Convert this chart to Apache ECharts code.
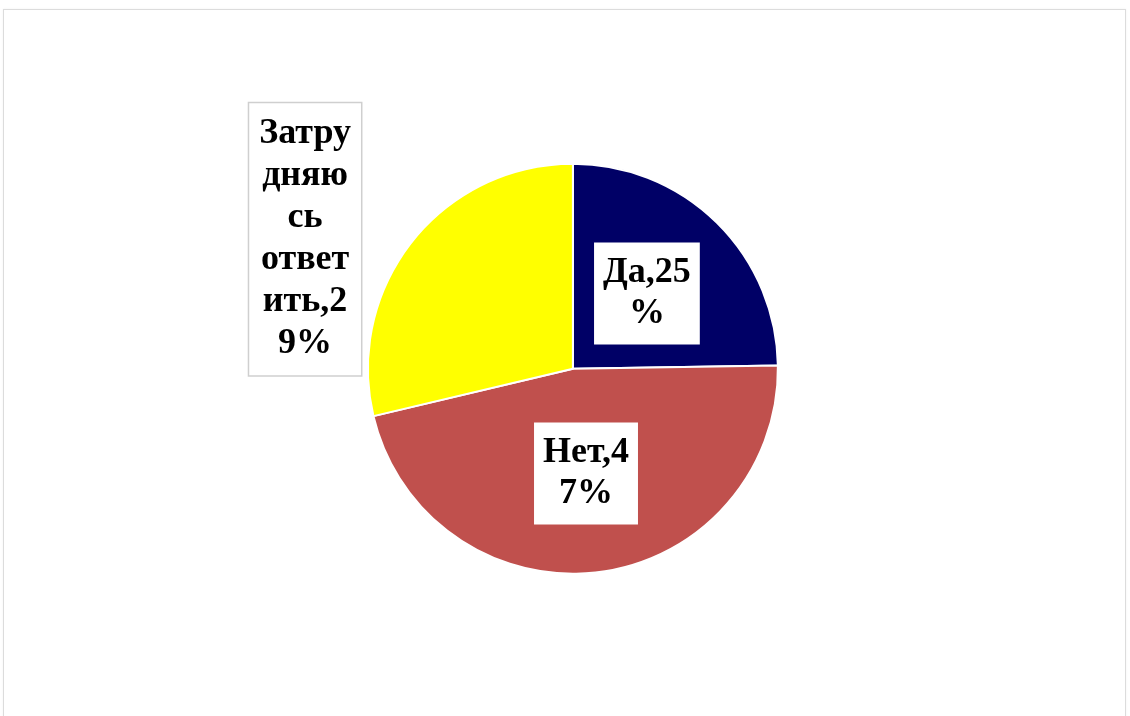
<!DOCTYPE html>
<html>
<head>
<meta charset="utf-8">
<script src="https://cdn.jsdelivr.net/npm/echarts@6/dist/echarts.min.js"></script>
<style>
html,body{margin:0;padding:0;background:#fff;}
#frame{position:absolute;left:3px;top:9px;width:1121px;height:730px;border:1px solid #dcdcdc;box-shadow:0 0 2px rgba(0,0,0,0.06);}
#chart{position:absolute;left:0;top:0;width:1130px;height:716px;}
</style>
</head>
<body>
<div id="frame"></div>
<div id="chart"></div>
<script>
const categories = ['Да', 'Нет', 'Затрудняюсь ответить'];
const values = [25, 47, 29];
const colors = ['#000066', '#c0504d', '#ffff00'];
// line lengths (in characters) of each wrapped label, as shown in the picture
const labelBreaks = [[5], [5], [5, 4, 2, 6, 5]];

function wrapLabel(text, lens) {
  const lines = [];
  let pos = 0;
  for (const n of lens) { lines.push(text.slice(pos, pos + n).trim()); pos += n; }
  if (pos < text.length) lines.push(text.slice(pos).trim());
  return lines.join('\n');
}

const chart = echarts.init(document.getElementById('chart'), null, {renderer: 'canvas'});
const labelBase = {
  fontFamily: '"Liberation Serif", "Times New Roman", serif',
  fontWeight: 'bold',
  fontSize: 36,
  lineHeight: 41,
  color: '#000',
  backgroundColor: '#fff',
  padding: [10, 9]
};
const data = categories.map((c, i) => ({
  name: c,
  value: values[i],
  itemStyle: {color: colors[i]},
  label: i === 2
    ? Object.assign({}, labelBase, {position: 'outside', lineHeight: 42, borderColor: '#cfcfcf', borderWidth: 1.5, padding: [10, 10]})
    : Object.assign({}, labelBase, {position: 'inside'}),
  labelLine: {show: false}
}));

chart.setOption({
  backgroundColor: 'transparent',
  animation: false,
  series: [{
    type: 'pie',
    center: ['50.7%', '51.5%'],
    radius: 205,
    startAngle: 90,
    clockwise: true,
    avoidLabelOverlap: false,
    itemStyle: {borderColor: '#fff', borderWidth: 2},
    label: {
      show: true,
      formatter: p => wrapLabel(p.name + ',' + p.value + '%', labelBreaks[p.dataIndex])
    },
    labelLine: {show: false},
    labelLayout: function (params) {
      if (params.dataIndex === 2) {
        const w = chart.getWidth(), h = chart.getHeight();
        return {x: w * 0.27, y: h * 0.334, align: 'center', verticalAlign: 'middle'};
      }
    },
    data: data
  }]
});
</script>
</body>
</html>
